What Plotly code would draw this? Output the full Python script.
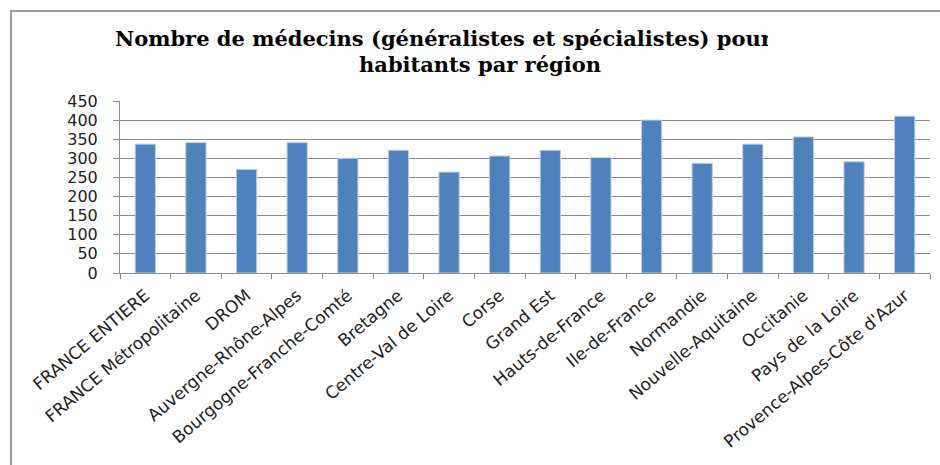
import plotly.graph_objects as go

categories = ["FRANCE ENTIERE", "FRANCE Métropolitaine", "DROM", "Auvergne-Rhône-Alpes",
              "Bourgogne-Franche-Comté", "Bretagne", "Centre-Val de Loire", "Corse",
              "Grand Est", "Hauts-de-France", "Ile-de-France", "Normandie",
              "Nouvelle-Aquitaine", "Occitanie", "Pays de la Loire", "Provence-Alpes-Côte d'Azur"]
values = [337, 341, 271, 341, 300, 321, 264, 306, 321, 302, 400, 287, 337, 356, 291, 410]
y_ticks = [0, 50, 100, 150, 200, 250, 300, 350, 400, 450]
title_line1 = "Nombre de médecins (généralistes et spécialistes) pour 1 000"
title_line2 = "habitants par région"

W, H = 940, 465
L, R, T, B = 120, 10, 101, 192
PW, PH = W - L - R, H - T - B

def px(x):
    return (x - L) / PW

def py(y):
    return (H - B - y) / PH

fig = go.Figure(go.Bar(
    x=categories, y=values,
    marker=dict(color="#4F81BD", line=dict(color="#B9CDE5", width=1)),
))

grey = "#8c8c8c"
x_font = dict(family="DejaVu Sans", size=17, color="#222222")
y_font = dict(family="DejaVu Sans", size=16, color="#222222")
title_font = dict(family="DejaVu Serif", size=21, color="black", weight="bold")

fig.update_layout(
    width=W, height=H,
    margin=dict(l=L, r=R, t=T, b=B, autoexpand=False),
    paper_bgcolor="white", plot_bgcolor="white",
    bargap=0.6,
    showlegend=False,
    xaxis=dict(
        tickangle=-40, tickfont=x_font, automargin=False,
        showline=True, linecolor=grey, linewidth=1,
        ticks="outside", ticklen=5, tickcolor=grey, tickson="boundaries",
        showgrid=False, ticklabelshift=0, ticklabelstandoff=5,
    ),
    yaxis=dict(
        range=[0, 450], tickvals=y_ticks, tickfont=y_font, automargin=False,
        showline=True, linecolor=grey, linewidth=1,
        ticks="outside", ticklen=6, tickcolor=grey, ticklabelstandoff=12,
        showgrid=True, gridcolor=grey, gridwidth=1, zeroline=False,
    ),
    shapes=[
        dict(type="rect", xref="paper", yref="paper",
             x0=px(11), x1=px(960), y0=py(11), y1=py(490),
             line=dict(color="#9a9a9a", width=2), layer="above"),
    ],
    annotations=[
        dict(text=title_line1, xref="paper", yref="paper",
             x=px(480), y=py(38), xanchor="center", yanchor="middle",
             showarrow=False, font=title_font),
        dict(text=title_line2, xref="paper", yref="paper",
             x=px(480), y=py(64), xanchor="center", yanchor="middle",
             showarrow=False, font=title_font),
        dict(text=" ", xref="paper", yref="paper",
             x=px(768), y=py(14), xanchor="left", yanchor="top",
             width=175, height=91, bgcolor="white", borderpad=0, borderwidth=0,
             showarrow=False),
    ],
)

fig.write_html("out.html", config={"displayModeBar": False},
               post_script="document.body.style.margin='0';")
